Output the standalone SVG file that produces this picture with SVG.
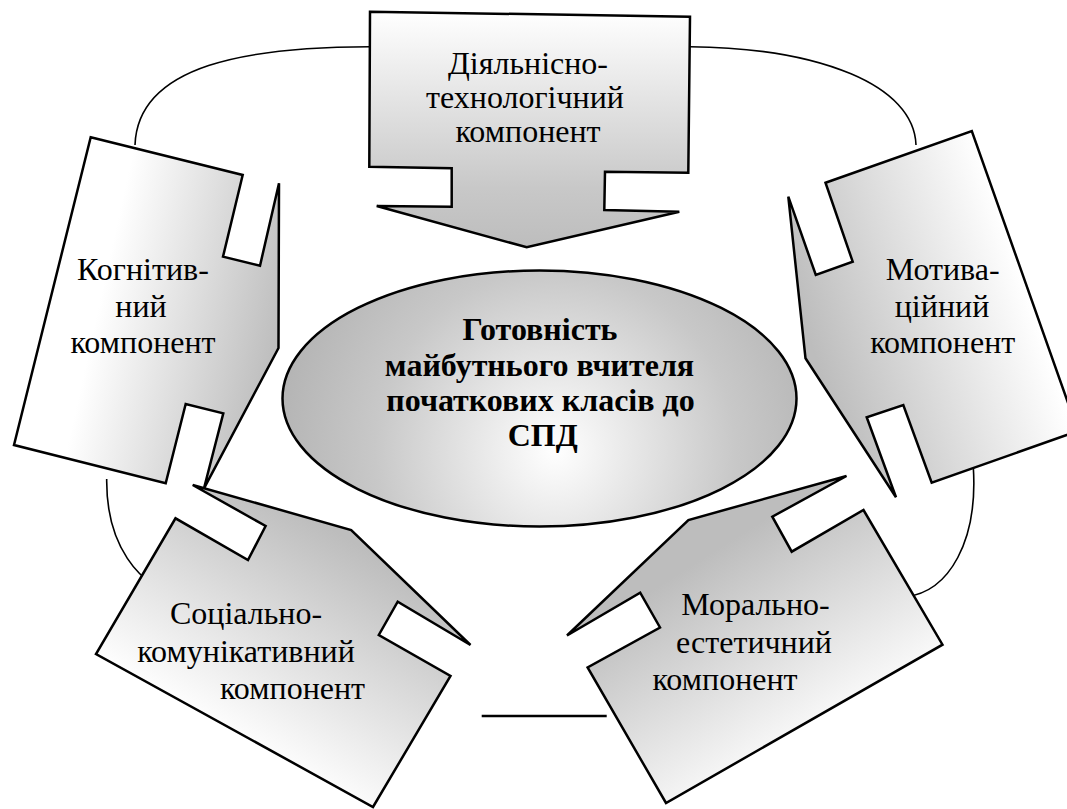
<svg xmlns="http://www.w3.org/2000/svg" width="1067" height="809" viewBox="0 0 1067 809">
<defs>
<linearGradient id="gTop" x1="0" y1="0" x2="0" y2="1">
<stop offset="0" stop-color="#ffffff"/><stop offset="0.75" stop-color="#c8c8c8"/><stop offset="1" stop-color="#bdbdbd"/>
</linearGradient>
<linearGradient id="gLeft" gradientUnits="userSpaceOnUse" x1="100" y1="300" x2="280" y2="340">
<stop offset="0" stop-color="#ffffff"/><stop offset="1" stop-color="#bdbdbd"/>
</linearGradient>
<linearGradient id="gRight" gradientUnits="userSpaceOnUse" x1="810" y1="340" x2="1020" y2="270">
<stop offset="0" stop-color="#bdbdbd"/><stop offset="1" stop-color="#ffffff"/>
</linearGradient>
<linearGradient id="gBL" gradientUnits="userSpaceOnUse" x1="230" y1="740" x2="350" y2="540">
<stop offset="0" stop-color="#ffffff"/><stop offset="1" stop-color="#bdbdbd"/>
</linearGradient>
<linearGradient id="gBR" gradientUnits="userSpaceOnUse" x1="700" y1="560" x2="820" y2="750">
<stop offset="0" stop-color="#bdbdbd"/><stop offset="1" stop-color="#ffffff"/>
</linearGradient>
<radialGradient id="gEl" gradientUnits="userSpaceOnUse" cx="555" cy="450" r="300" fx="555" fy="450">
<stop offset="0" stop-color="#ffffff"/><stop offset="0.6" stop-color="#c8c8c8"/><stop offset="1" stop-color="#b0b0b0"/>
</radialGradient>
</defs>
<rect width="1067" height="809" fill="#ffffff"/>

<g id="connectors" fill="none" stroke="#000" stroke-width="1.6">
<path d="M135,145 C138,64 250,47 370,46.7"/>
<path d="M690,46.7 C820,48 914,85 916,145"/>
<path d="M106.7,479 C106,540 135,590 189,598"/>
<path d="M973.3,467 C978,540 950,592 905,597"/>
<line x1="481.7" y1="716" x2="606.7" y2="716" stroke-width="2.5"/>
</g>

<g id="node-top" font-size="32" text-anchor="middle" fill="#000">
<polygon stroke="#000" stroke-width="2.5" fill="url(#gTop)" points="370,11.7 690,16.7 688.3,172.7 605,171.7 604.3,210 679.3,211.7 526.7,247.3 376.7,206 451.7,206.7 451.7,168.3 369.3,166.7"/>
<text style="font-family:'Liberation Serif',serif" x="528" y="74">Діяльнісно-</text>
<text style="font-family:'Liberation Serif',serif" x="525" y="107.5">технологічний</text>
<text style="font-family:'Liberation Serif',serif" x="528" y="141.5">компонент</text>
</g>

<g id="node-left" font-size="32" text-anchor="middle" fill="#000">
<polygon stroke="#000" stroke-width="2.5" fill="url(#gLeft)" points="90.7,137.3 242.7,175 223,256.7 260,265.7 279,183.3 278.5,348 204,488.3 223.3,413.3 185.7,404 165.7,483.3 14,445"/>
<text style="font-family:'Liberation Serif',serif" x="143" y="280">Когнітив-</text>
<text style="font-family:'Liberation Serif',serif" x="141" y="316.7">ний</text>
<text style="font-family:'Liberation Serif',serif" x="143" y="353.3">компонент</text>
</g>

<g id="node-right" font-size="32" text-anchor="middle" fill="#000">
<polygon stroke="#000" stroke-width="2.5" fill="url(#gRight)" points="825.5,182.7 971.8,131 1078,431 931.7,482.7 903.3,405 866.7,417.3 896,497.3 805.5,358.3 788.3,196.7 815.8,275 852.7,261.7"/>
<text style="font-family:'Liberation Serif',serif" x="942.7" y="280">Мотива-</text>
<text style="font-family:'Liberation Serif',serif" x="942" y="316.7">ційний</text>
<text style="font-family:'Liberation Serif',serif" x="942.7" y="353.3">компонент</text>
</g>

<g id="node-bottom-left" font-size="32" text-anchor="middle" fill="#000">
<polygon stroke="#000" stroke-width="2.5" fill="url(#gBL)" points="192.7,485 351.2,530 470.5,645 397.7,601.7 378.8,635 450.5,676 373,807 96,654 175.5,518.3 248,560 265.6,526"/>
<text style="font-family:'Liberation Serif',serif" x="246" y="624">Соціально-</text>
<text style="font-family:'Liberation Serif',serif" x="246" y="662">комунікативний</text>
<text style="font-family:'Liberation Serif',serif" x="292.5" y="699">компонент</text>
</g>

<g id="node-bottom-right" font-size="32" text-anchor="middle" fill="#000">
<polygon stroke="#000" stroke-width="2.5" fill="url(#gBR)" points="567,635.5 688.4,520 846.5,476 772.3,516.7 791.7,551.7 863.5,510 942.5,644.7 666,803 587.6,667.5 660,627.5 640.2,592.7"/>
<text style="font-family:'Liberation Serif',serif" x="755.5" y="615">Морально-</text>
<text style="font-family:'Liberation Serif',serif" x="754" y="653">естетичний</text>
<text style="font-family:'Liberation Serif',serif" x="725" y="690">компонент</text>
</g>

<g id="node-center" font-size="32" font-weight="bold" text-anchor="middle" fill="#000">
<ellipse stroke="#000" stroke-width="2.5" fill="url(#gEl)" cx="539.5" cy="398.5" rx="257" ry="128"/>
<text style="font-family:'Liberation Serif',serif" x="540" y="340">Готовність</text>
<text style="font-family:'Liberation Serif',serif" x="539.5" y="375.5">майбутнього вчителя</text>
<text style="font-family:'Liberation Serif',serif" x="540.5" y="411">початкових класів до</text>
<text style="font-family:'Liberation Serif',serif" x="542.7" y="446">СПД</text>
</g>
</svg>
